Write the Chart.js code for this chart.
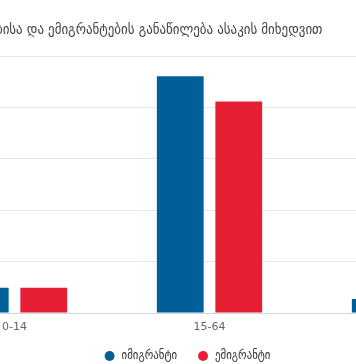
<!DOCTYPE html>
<html>
<head>
<meta charset="utf-8">
<script src="https://cdn.jsdelivr.net/npm/chart.js@4.4.0/dist/chart.umd.min.js"></script>
<style>
html,body{margin:0;padding:0;background:#fff;overflow:hidden;width:356px;height:364px;}
#wrap{position:absolute;left:-138px;top:0;width:648px;height:364px;}
</style>
</head>
<body>
<div id="wrap"><canvas id="c" width="648" height="364"></canvas></div>
<script>
const titleText = "იმიგრანტებისა და ემიგრანტების განაწილება ასაკის მიხედვით";
const categories = ["0-14", "15-64", "65+"];
const seriesNames = ["იმიგრანტი", "ემიგრანტი"];
const immigrants = [9.8, 92.2, 5.5];
const emigrants = [9.8, 82.4, 7.8];
const yTicks = [0, 20, 40, 60, 80, 100];

// the title in the source sits left of the canvas centre
const titleShift = {
  id: 'titleShift',
  afterLayout(chart) {
    const t = chart.titleBlock;
    if (t) { t.left -= 61; t.right -= 61; }
  }
};

new Chart(document.getElementById('c'), {
  type: 'bar',
  data: {
    labels: categories,
    datasets: [
      {label: seriesNames[0], data: immigrants, backgroundColor: '#005f99', borderWidth: 0,
       categoryPercentage: 0.6, barPercentage: 0.8},
      {label: seriesNames[1], data: emigrants, backgroundColor: '#e61e34', borderWidth: 0,
       categoryPercentage: 0.6, barPercentage: 0.8}
    ]
  },
  plugins: [titleShift],
  options: {
    responsive: false,
    animation: false,
    layout: {padding: {left: 10, right: 8, top: 0, bottom: -8}},
    plugins: {
      title: {display: true, text: titleText, color: '#444',
        font: {family: 'DejaVu Sans Condensed', size: 14.4, weight: 'normal'}, padding: {top: 22, bottom: 17}},
      legend: {position: 'bottom',
        labels: {usePointStyle: true, pointStyle: 'circle', boxWidth: 12, boxHeight: 7,
          color: '#333', font: {family: 'DejaVu Sans Condensed', size: 12}, padding: 20}},
      tooltip: {enabled: false}
    },
    scales: {
      x: {grid: {display: false, drawTicks: false}, border: {color: '#ccd6eb'},
        afterFit: (s) => { s.height = 17; },
        ticks: {color: '#666', font: {family: 'DejaVu Sans', size: 11}, padding: 7.4}},
      y: {min: yTicks[0], max: yTicks[yTicks.length-1],
        afterBuildTicks: (s) => { s.ticks = yTicks.map(v => ({value: v})); },
        grid: {color: '#e6e6e6'}, border: {display: false},
        ticks: {color: '#666', font: {family: 'DejaVu Sans', size: 11}, padding: 8}}
    }
  }
});
</script>
</body>
</html>
